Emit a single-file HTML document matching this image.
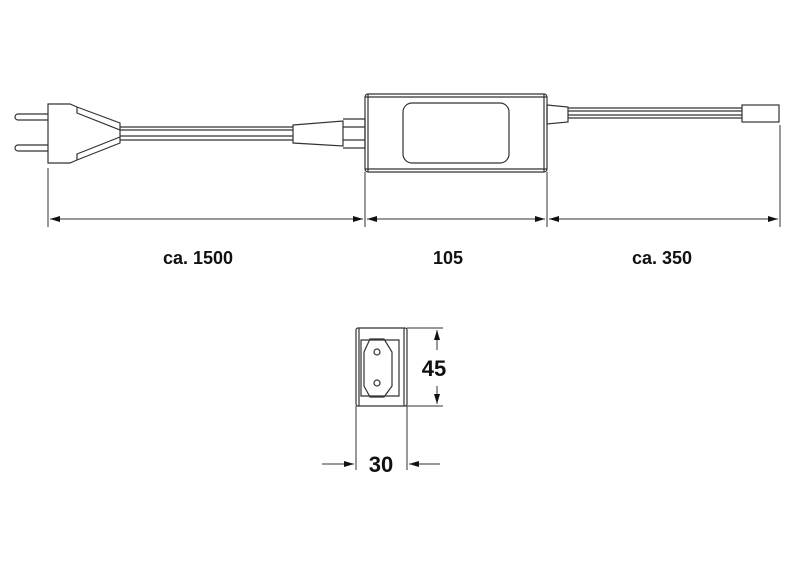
<!DOCTYPE html>
<html><head><style>body{margin:0;background:#fff}svg{display:block}</style></head><body>
<svg width="800" height="584" viewBox="0 0 800 584" xmlns="http://www.w3.org/2000/svg">
<defs>
<marker id="a" viewBox="0 0 10 6" refX="10" refY="3" markerWidth="10" markerHeight="6" orient="auto-start-reverse" markerUnits="userSpaceOnUse"><path d="M0,0L10,3L0,6z" fill="#111"/></marker>
</defs>
<g fill="none" stroke="#333" stroke-width="1.2">
<!-- prongs -->
<path d="M48,114H18a3,3 0 0 0 0,6H48"/>
<path d="M48,145H18a3,3 0 0 0 0,6H48"/>
<!-- plug body -->
<path d="M48,104H70L77,107L120,123V143L77,160L70,163H48Z"/>
<path d="M77,107V113L120,130M77,160V154L120,137"/>
<!-- cable -->
<path d="M120,127H293M120,130H293M120,136H293M120,140H293"/>
<!-- strain relief -->
<path d="M293,125L343,121V146L293,143Z"/>
<path d="M343,119H365V148H343M343,127H365M343,140H365"/>
<!-- box -->
<rect x="365" y="94" width="182" height="78" rx="3"/>
<path d="M368,94V172M544,94V172M365,97H547M365,169H547"/>
<rect x="403" y="103" width="106" height="60" rx="9"/>
<!-- right -->
<path d="M547,105L568,107V122L547,124Z"/>
<path d="M568,108H742M568,111H742M568,115H742M568,118H742"/>
<rect x="742" y="105" width="37" height="17"/>
</g>
<g stroke="#333" stroke-width="1">
<path d="M48,168V227M365,172V227M547,172V227M780,125V227"/>
<line x1="50" y1="219" x2="363" y2="219" marker-start="url(#a)" marker-end="url(#a)"/>
<line x1="367" y1="219" x2="545" y2="219" marker-start="url(#a)" marker-end="url(#a)"/>
<line x1="549" y1="219" x2="778" y2="219" marker-start="url(#a)" marker-end="url(#a)"/>
</g>
<g font-family="Liberation Sans, sans-serif" font-weight="bold" font-size="18" fill="#111" text-anchor="middle">
<text x="198" y="264">ca. 1500</text>
<text x="448" y="264">105</text>
<text x="662" y="264">ca. 350</text>
</g>
<!-- end view -->
<g fill="none" stroke="#333" stroke-width="1.2">
<rect x="356" y="328" width="51" height="78" rx="2"/>
<path d="M359,328V406M404,328V406"/>
<path d="M361,340H399V396H361Z"/>
<path d="M370,339H384L392,352V386L384,397H370L364,386V352Z"/>
<circle cx="377" cy="352" r="3"/><circle cx="377" cy="383" r="3"/>
</g>
<g stroke="#333" stroke-width="1">
<path d="M407,328H443M407,406H443M356,406V470M407,406V470"/>
<line x1="437" y1="350" x2="437" y2="330" marker-end="url(#a)"/>
<line x1="437" y1="386" x2="437" y2="404" marker-end="url(#a)"/>
<line x1="322" y1="464" x2="354" y2="464" marker-end="url(#a)"/>
<line x1="440" y1="464" x2="409" y2="464" marker-end="url(#a)"/>
</g>
<g font-family="Liberation Sans, sans-serif" font-weight="bold" font-size="22" fill="#111" text-anchor="middle">
<text x="434" y="376">45</text>
<text x="381" y="472">30</text>
</g>
</svg>
</body></html>
